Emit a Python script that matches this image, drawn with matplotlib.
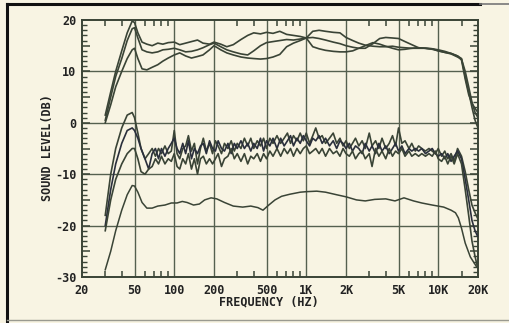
import matplotlib
matplotlib.use("Agg")
import matplotlib.pyplot as plt
from matplotlib.lines import Line2D
from matplotlib.ticker import FixedLocator, FixedFormatter, MultipleLocator, NullFormatter

# --- values ---
x_ticks = [20, 50, 100, 200, 500, 1000, 2000, 5000, 10000, 20000]
x_tick_labels = ["20", "50", "100", "200", "500", "1K", "2K", "5K", "10K", "20K"]
x_minor = [30, 40, 60, 70, 80, 90, 300, 400, 600, 700, 800, 900,
           3000, 4000, 6000, 7000, 8000, 9000, 15000]
y_ticks = [-30, -20, -10, 0, 10, 20]
y_marks = [-30, -25, -20, -15, -10, -5, 0, 5, 10, 15, 20]

# upper group of three smooth curves
top_freq = [30, 33, 36, 40, 44, 48, 50, 53, 57, 62, 68, 75, 82, 90, 100, 110, 122, 135,
            150, 165, 185, 200, 225, 250, 280, 320, 360, 400, 450, 500, 560, 630, 710,
            800, 900, 1000, 1120, 1250, 1400, 1600, 1800, 2000, 2250, 2500, 2800, 3200,
            3600, 4000, 4500, 5000, 5600, 6300, 7100, 8000, 9000, 10000, 11200, 12500,
            14000, 15000, 16000, 17000, 18000, 19000, 20000]
top_a = [1.5, 6, 10, 14, 17.5, 19.8, 19.5, 17.5, 15.7, 15.3, 15.0, 15.5, 15.3, 15.6, 15.7,
         15.2, 15.5, 15.8, 16.1, 15.5, 15.3, 15.7, 15.3, 14.8, 15.2, 16.2, 17.0, 17.5, 17.3,
         17.6, 17.4, 17.8, 17.2, 17.0, 16.8, 16.5, 17.8, 18.0, 17.8, 17.6, 17.5, 16.6, 16.0,
         15.5, 15.1, 14.9, 14.8, 14.8, 14.9, 14.7, 14.6, 14.5, 14.6, 14.5, 14.4, 14.2, 13.9,
         13.5, 13.0, 12.2, 8.5, 5.5, 3.8, 2.8, 2.0]
top_b = [0.5, 5, 9, 12.5, 16, 18.3, 18.5, 16.5, 14.2, 13.8, 13.6, 13.8, 14.2, 14.3, 14.5,
         14.2, 13.8, 13.9, 14.2, 14.6, 15.2, 15.5, 14.8, 14.2, 13.8, 13.4, 13.2, 14.0, 15.0,
         15.6, 15.8, 16.0, 16.2, 16.1, 16.3, 16.5, 16.6, 16.4, 16.1, 15.7, 15.4, 15.0, 14.7,
         14.5, 14.5, 15.4, 16.4, 16.6, 16.5, 16.4, 15.8, 15.2, 14.6, 14.5, 14.4, 14.0, 13.7,
         13.5, 13.0, 12.5, 9.0, 6.0, 3.0, 0.5, -1.0]
top_c = [0.0, 3.5, 7, 10, 12.5, 14.2, 14.5, 12.5, 10.5, 10.3, 10.8, 11.3, 12.0, 12.6, 13.2,
         13.6, 13.0, 12.6, 12.9, 13.2, 14.2, 15.0, 14.2, 13.6, 13.2, 12.8, 12.6, 12.5, 12.4,
         12.5, 12.8, 13.3, 14.8, 15.5, 16.0, 16.5, 14.8, 14.4, 14.1, 13.9, 13.8, 13.8, 14.0,
         14.5, 15.0, 15.6, 15.3, 14.9, 14.5, 14.2, 14.3, 14.5, 14.5, 14.5, 14.3, 14.0, 13.7,
         13.4, 12.8, 12.4, 10.0, 7.0, 4.0, 2.0, 1.0]

# middle group of three ragged curves
mid_freq = [30, 33, 36, 40, 44, 48, 50, 53, 56, 60, 64, 68, 72, 76, 80, 85, 90, 95, 100,
            105, 110, 116, 122, 128, 135, 142, 150, 158, 166, 175, 185, 195, 205, 215, 228,
            240, 255, 270, 285, 300, 320, 340, 360, 380, 400, 425, 450, 475, 500, 530, 560,
            600, 640, 680, 720, 760, 800, 850, 900, 950, 1000, 1060, 1120, 1180, 1250, 1320,
            1400, 1500, 1600, 1700, 1800, 1900, 2000, 2120, 2240, 2360, 2500, 2650, 2800,
            3000, 3150, 3350, 3550, 3750, 4000, 4250, 4500, 4750, 5000, 5300, 5600, 6000,
            6300, 6700, 7100, 7500, 8000, 8500, 9000, 9500, 10000, 10600, 11200, 11800,
            12500, 13200, 14000, 15000, 16000, 17000, 18000, 19000, 19800]
mid_a = [-18, -10, -5, -1, 1.5, 2, 1, -2, -5, -7, -6, -5, -6.5, -5, -6, -4.5, -6, -5.5, -1.5,
         -6, -7, -5, -4.5, -2.5, -5.5, -4, -8, -5, -3, -5.5, -4, -6, -3.5, -4.5, -6,
         -4, -5, -3.5, -5.5, -4, -5, -3, -4.5, -3, -5, -3.5, -4.5, -3, -5, -3, -4,
         -2.5, -4, -3, -2, -4, -2.5, -3.5, -2, -3.5, -2, -4, -2.5, -1, -3, -2.5,
         -4, -3, -2, -4, -3, -4.5, -3.5, -5, -4, -3, -4.5, -3.5, -5,
         -2, -4.5, -3.5, -5, -3, -5, -4, -2.5, -4.5, -1, -4, -3.5, -5,
         -4, -5.5, -4.5, -5, -5.5, -5, -5.5, -6, -5, -6.5, -5.5, -7,
         -6, -7.5, -5, -6.5, -9.5, -13, -16, -17.5, -18.5]
mid_b = [-20, -13, -8, -4, -1.5, -1, -1.5, -3, -5, -7, -9, -6, -5, -7, -5, -6.5, -5, -4, -3,
         -5, -6, -4, -6, -3.5, -7, -5, -6, -4.5, -4, -6, -3.5, -5, -5.5, -3.5, -5,
         -5.5, -4, -6, -4, -5, -3.5, -5, -4, -5.5, -4, -5, -3, -5.5, -3.5, -4.5, -3,
         -5, -3, -4.5, -3.5, -2.5, -4.5, -3, -4, -2.5, -3.5, -4.5, -3, -3.5, -2.5, -4,
         -3, -4.5, -3.5, -5, -3.5, -4, -5, -4, -5.5, -4.5, -5, -6, -4,
         -5.5, -4.5, -6, -4, -5.5, -4.5, -6, -5, -4, -5.5, -4.5, -6, -5,
         -5.5, -5, -5.5, -5, -6, -5.5, -5, -6, -6.5, -6, -7, -6,
         -7.5, -6.5, -5.5, -7, -11, -15, -19, -21, -22]
mid_c = [-21, -15, -11, -8, -6, -5, -5, -7, -9.5, -10, -9, -8.5, -7, -8, -6.5, -8, -7, -7.5,
         -6, -8.5, -9, -7, -8, -6, -9, -7, -10, -7, -6.5, -8, -7, -8, -7, -6, -8.5,
         -7, -6.5, -5, -7, -6, -7.5, -6, -8, -6.5, -7, -6, -7.5, -6, -7, -5.5, -6.5,
         -5, -6.5, -5, -6, -5, -6.5, -5, -6, -5, -4.5, -6, -5.5, -5, -6, -5,
         -6.5, -5, -6, -5.5, -6.5, -5, -6, -6.5, -5.5, -7, -6, -5.5, -7,
         -6, -8.5, -5, -6.5, -5.5, -7, -5, -6.5, -5.5, -6, -5, -6.5, -5.5,
         -6.5, -6, -6.5, -6, -6.5, -6, -6.5, -5.5, -7, -7.5, -6.5, -8,
         -6.5, -8, -6, -8, -13, -18, -23, -26, -28]

# lowest single curve
low_freq = [30, 33, 36, 40, 44, 48, 50, 53, 57, 62, 68, 75, 85, 95, 105, 115, 125, 140, 155,
            170, 190, 210, 240, 280, 330, 380, 430, 470, 520, 580, 650, 750, 900, 1000,
            1200, 1400, 1700, 2000, 2400, 2800, 3300, 4000, 4700, 5500, 6500, 7500, 9000,
            11000, 12500, 13500, 14200, 15000, 16000, 17500, 19500]
low_db = [-28.6, -25, -21, -17, -14, -12.2, -12.3, -13.5, -15.5, -16.6, -16.6, -16.2, -16,
          -15.6, -15.6, -15.3, -15.5, -16, -15.8, -15, -14.6, -14.8, -15.5, -16.2, -16.4,
          -16.2, -16.5, -17, -16, -15, -14.3, -13.9, -13.5, -13.4, -13.3, -13.5, -14, -14.4,
          -15, -15.2, -14.9, -14.8, -15.2, -14.6, -15.2, -15.6, -16, -16.4, -17, -17.5,
          -18.5, -20.5, -23.4, -26.1, -28]

ink = "#3a4436"
grid_ink = "#55604f"
paper = "#f8f4e3"
mono = dict(family="DejaVu Sans Mono", weight="bold", fontsize=8.5, color="#222222")

fig = plt.figure(figsize=(5.09, 3.23), dpi=100, facecolor=paper)
ax = fig.add_axes([82 / 509, 46 / 323, 396 / 509, 257 / 323], facecolor=paper)

# grid drawn by hand so the 5 dB marks can be ticks without lines
for f in x_ticks[1:-1]:
    ax.axvline(f, color=grid_ink, lw=1.0, zorder=1)
for v in y_ticks[1:-1]:
    ax.axhline(v, color=grid_ink, lw=1.0, zorder=1)

for ys in (top_a, top_b, top_c):
    ax.plot(top_freq, ys, color=ink, lw=1.2, zorder=3)
for ys, c in ((mid_a, ink), (mid_b, "#2a2f3c"), (mid_c, ink)):
    ax.plot(mid_freq, ys, color=c, lw=1.2, zorder=3)
ax.plot(low_freq, low_db, color=ink, lw=1.1, zorder=3)

ax.set_xscale("log")
ax.set_xlim(20, 20000)
ax.set_ylim(-30, 20)
ax.xaxis.set_major_locator(FixedLocator(x_ticks))
ax.xaxis.set_major_formatter(FixedFormatter(x_tick_labels))
ax.xaxis.set_minor_locator(FixedLocator(x_minor))
ax.xaxis.set_minor_formatter(NullFormatter())
ax.yaxis.set_major_locator(FixedLocator(y_marks))
ax.yaxis.set_major_formatter(FixedFormatter([str(v) if v % 10 == 0 else "" for v in y_marks]))
ax.yaxis.set_minor_locator(MultipleLocator(1))

ax.tick_params(which="both", direction="in", top=True, right=True, color=ink)
ax.tick_params(axis="x", which="major", length=0, pad=5)
ax.tick_params(axis="x", which="minor", length=4, width=1.1)
ax.tick_params(axis="y", which="major", length=6, width=1.1, pad=4)
ax.tick_params(axis="y", which="minor", length=3.5, width=1.0)
ax.tick_params(which="major", labelsize=8.5, labelcolor="#222222")
for lab in ax.get_xticklabels() + ax.get_yticklabels():
    lab.set_family("DejaVu Sans Mono")
    lab.set_weight("bold")
for sp in ax.spines.values():
    sp.set_color(ink)
    sp.set_linewidth(1.4)

fig.text(47 / 509, 1 - 148 / 323, "SOUND LEVEL(DB)", rotation=90, ha="center", va="center", **mono)
fig.text(269 / 509, 1 - 302 / 323, "FREQUENCY (HZ)", ha="center", va="center", **mono)

# scanned page frame
fig.add_artist(Line2D([7 / 509, 7 / 509], [1 - 4 / 323, 1 - 321 / 323], color="#111111", lw=2.2))
fig.add_artist(Line2D([7 / 509, 480 / 509], [1 - 4 / 323, 1 - 4 / 323], color="#111111", lw=2.2))
fig.add_artist(Line2D([480 / 509, 509 / 509], [1 - 4 / 323, 1 - 4 / 323], color="#777777", lw=1.2))
fig.add_artist(Line2D([7 / 509, 509 / 509], [1 - 320 / 323, 1 - 320 / 323], color="#9a9a90", lw=1.0))

fig.savefig("out.png", dpi=100, facecolor=paper)
